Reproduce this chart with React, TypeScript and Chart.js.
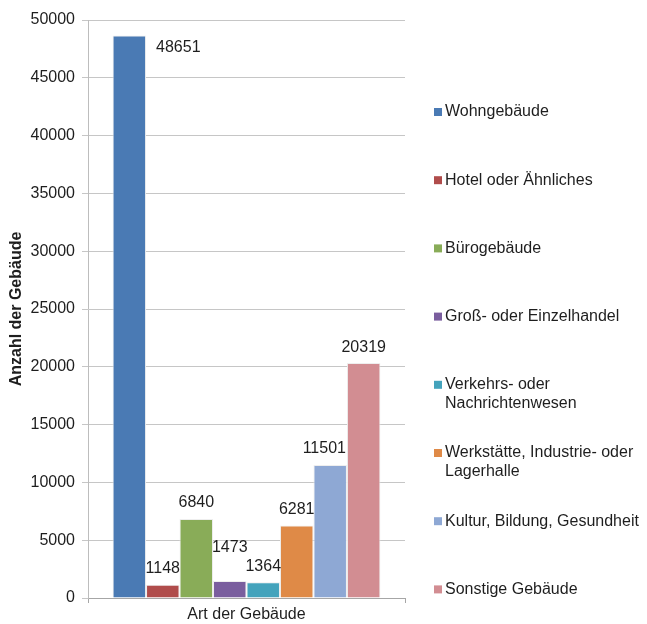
import React, { useEffect, useRef } from "react";
import { Chart, registerables } from "chart.js";

Chart.register(...registerables);

const FONT = '"Liberation Sans", Arial, sans-serif';

// Building types and their counts
const categories = [
  "Wohngebäude",
  "Hotel oder Ähnliches",
  "Bürogebäude",
  "Groß- oder Einzelhandel",
  "Verkehrs- oder Nachrichtenwesen",
  "Werkstätte, Industrie- oder Lagerhalle",
  "Kultur, Bildung, Gesundheit",
  "Sonstige Gebäude",
];
const counts = [48651, 1148, 6840, 1473, 1364, 6281, 11501, 20319];
const colors = [
  "#4A7AB4",
  "#B04C4B",
  "#89AC58",
  "#7A5E9E",
  "#44A3BC",
  "#DF8A47",
  "#8EA8D4",
  "#D28D92",
];
const yTicks = [0, 5000, 10000, 15000, 20000, 25000, 30000, 35000, 40000, 45000, 50000];
const xTitle = "Art der Gebäude";
const yTitle = "Anzahl der Gebäude";

// Value labels above each bar, nudged away from taller neighbours and other labels
const valueLabels = {
  id: "valueLabels",
  afterDatasetsDraw(chart: any) {
    const { ctx, chartArea } = chart;
    ctx.save();
    ctx.font = `16px ${FONT}`;
    ctx.fillStyle = "#1e1e1e";
    ctx.textBaseline = "middle";
    ctx.textAlign = "center";
    const h = 16;
    const bars = chart.data.datasets.map((_: any, i: number) => {
      const el = chart.getDatasetMeta(i).data[0];
      const p = el.getProps(["x", "y", "width"], true);
      return { left: p.x - p.width / 2, right: p.x + p.width / 2, x: p.x, top: p.y };
    });
    const placed: { left: number; right: number; top: number; bottom: number }[] = [];
    for (let i = bars.length - 1; i >= 0; i--) {
      const b = bars[i];
      const text = String(chart.data.datasets[i].data[0]);
      const w = ctx.measureText(text).width;
      let cx = b.x;
      let cy = b.top - 16;
      if (cy - h / 2 < chartArea.top) {
        cx = b.right + 10 + w / 2;
        cy = b.top + 12;
      } else {
        const nb = bars[i + 1];
        if (nb && nb.top < cy + h / 2 && cx + w / 2 - nb.left > 2) {
          cx = nb.left - 1 - w / 2;
        }
        let moved = true;
        while (moved) {
          moved = false;
          for (const p of placed) {
            const overlaps =
              cx - w / 2 < p.right && cx + w / 2 > p.left && cy - h / 2 < p.bottom && cy + h / 2 > p.top;
            if (overlaps) {
              cy = p.top - 3 - h / 2;
              moved = true;
            }
          }
        }
      }
      placed.push({ left: cx - w / 2, right: cx + w / 2, top: cy - h / 2, bottom: cy + h / 2 });
      ctx.fillText(text, cx, cy);
    }
    ctx.restore();
  },
};

// Legend on the right, one evenly spaced entry per building type, wrapped text
const sideLegend = {
  id: "sideLegend",
  afterDraw(chart: any) {
    const { ctx } = chart;
    const x0 = 434;
    const textX = 445;
    const firstY = 112;
    const step = 68.2;
    const lineH = 18.5;
    const maxW = 200;
    ctx.save();
    ctx.font = `16px ${FONT}`;
    ctx.textBaseline = "middle";
    ctx.textAlign = "left";
    chart.data.datasets.forEach((ds: any, i: number) => {
      const cy = firstY + i * step;
      ctx.fillStyle = ds.backgroundColor;
      ctx.fillRect(x0, cy - 4, 8, 8);
      const words = String(ds.label).split(" ");
      const lines: string[] = [];
      let cur = "";
      for (const wd of words) {
        const test = cur ? cur + " " + wd : wd;
        if (cur && ctx.measureText(test).width > maxW) {
          lines.push(cur);
          cur = wd;
        } else {
          cur = test;
        }
      }
      if (cur) lines.push(cur);
      ctx.fillStyle = "#1e1e1e";
      lines.forEach((ln, k) => ctx.fillText(ln, textX, cy + k * lineH));
    });
    ctx.restore();
  },
};

export default function App() {
  const ref = useRef<HTMLCanvasElement>(null);

  useEffect(() => {
    if (!ref.current) return;
    const chart = new Chart(ref.current, {
      type: "bar",
      data: {
        labels: [""],
        datasets: categories.map((name, i) => ({
          label: name,
          data: [counts[i]],
          backgroundColor: colors[i],
          borderColor: "#eeeeee",
          borderWidth: 1,
          categoryPercentage: 0.845,
          barPercentage: 1,
        })),
      },
      options: {
        responsive: false,
        animation: false,
        layout: { padding: { top: 20, right: 242, bottom: 0, left: 0 } },
        plugins: {
          legend: { display: false },
          tooltip: { enabled: false },
        },
        scales: {
          x: {
            ticks: { display: false },
            grid: { drawOnChartArea: false, tickLength: 5, color: "#a6a6a6" },
            border: { color: "#a6a6a6" },
            title: {
              display: true,
              text: xTitle,
              color: "#1e1e1e",
              font: { family: FONT, size: 16 },
              padding: 0,
            },
            afterFit(scale: any) {
              scale.height = 26;
            },
          },
          y: {
            min: 0,
            max: 50000,
            afterBuildTicks(scale: any) {
              scale.ticks = yTicks.map((v) => ({ value: v }));
            },
            ticks: {
              padding: 7,
              color: "#1e1e1e",
              font: { family: FONT, size: 16 },
              callback: (v: any) => String(v),
            },
            grid: { color: "#c6c6c6", tickLength: 6 },
            border: { color: "#bdbdbd" },
            title: {
              display: true,
              text: yTitle,
              color: "#1e1e1e",
              font: { family: FONT, size: 16, weight: "bold" },
              padding: { top: 7, bottom: 0 },
            },
            afterFit(scale: any) {
              scale.width = 88;
            },
          },
        },
      },
      plugins: [valueLabels, sideLegend],
    });
    return () => chart.destroy();
  }, []);

  return (
    <div style={{ position: "absolute", left: 0, top: 0, width: 647, height: 624, background: "#fff" }}>
      <canvas ref={ref} width={647} height={624} />
    </div>
  );
}
